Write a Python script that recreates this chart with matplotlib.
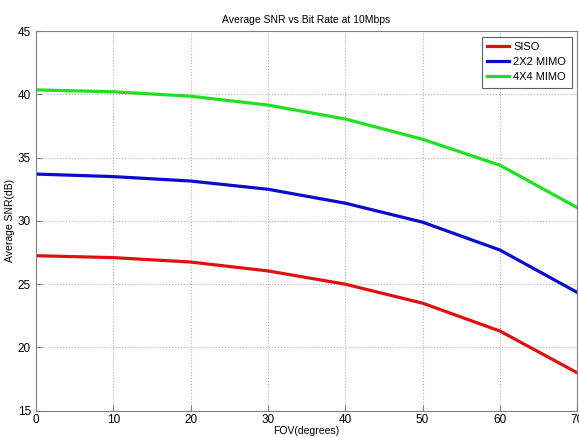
import numpy as np
import matplotlib.pyplot as plt

plt.rcParams['font.family'] = ['Liberation Sans', 'DejaVu Sans']

fov = [0, 10, 20, 30, 40, 50, 60, 70]
siso = [27.25, 27.1, 26.75, 26.05, 25.0, 23.5, 21.3, 18.0]
mimo2 = [33.7, 33.5, 33.15, 32.5, 31.4, 29.9, 27.7, 24.35]
mimo4 = [40.35, 40.2, 39.85, 39.15, 38.05, 36.45, 34.4, 31.05]

fig = plt.figure(figsize=(5.79, 4.37), dpi=100)
ax = fig.add_axes([0.062, 0.06, 0.935, 0.869])

ax.plot(fov, siso, color='#e01010', lw=2.3, label='SISO')
ax.plot(fov, mimo2, color='#0a0ad0', lw=2.3, label='2X2 MIMO')
ax.plot(fov, mimo4, color='#20e020', lw=2.3, label='4X4 MIMO')

ax.set_xlim(0, 70)
ax.set_ylim(15, 45)
ax.set_xticks(np.arange(0, 71, 10))
ax.set_yticks(np.arange(15, 46, 5))
ax.grid(True, linestyle=':', color='#b0b0b0', lw=0.8)
ax.tick_params(direction='in', labelsize=8.5, length=4, color='#808080')
ax.tick_params(axis='x', pad=2)
for s in ax.spines.values():
    s.set_color('#808080')

ax.set_title('Average SNR vs Bit Rate at 10Mbps', fontsize=7.5)
ax.set_xlabel('FOV(degrees)', fontsize=7.5, labelpad=0)
ax.set_ylabel('Average SNR(dB)', fontsize=7.5, labelpad=2)

leg = ax.legend(loc='upper right', fontsize=8, fancybox=False, framealpha=1,
                edgecolor='#606060', handlelength=2.0, handletextpad=0.35,
                borderpad=0.5, labelspacing=0.45)
leg.get_frame().set_linewidth(0.8)

fig.savefig('out.png')
